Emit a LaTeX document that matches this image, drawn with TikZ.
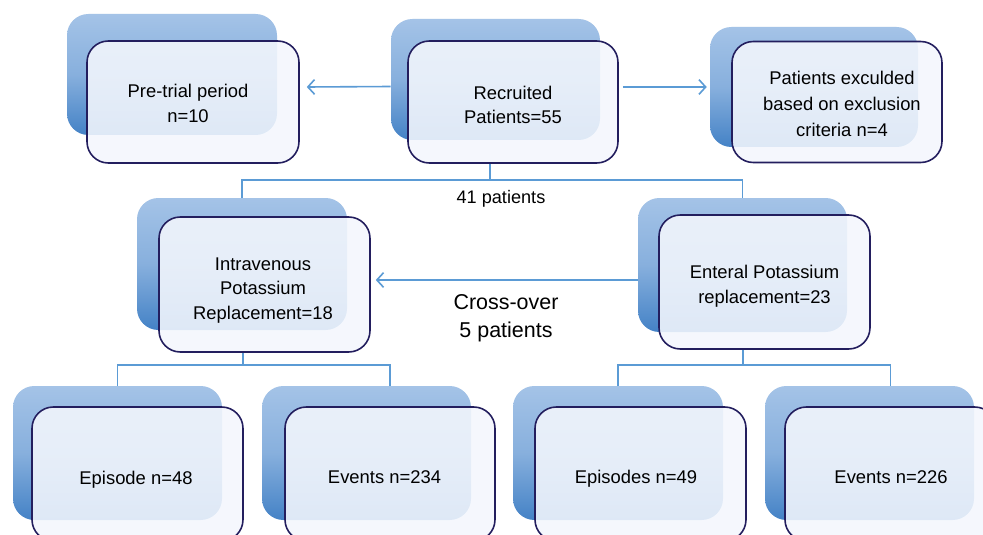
\documentclass[tikz,border=0pt]{standalone}
\usepackage{fontspec}
\setmainfont{Liberation Sans}
\usetikzlibrary{arrows.meta,calc}
\definecolor{backtop}{HTML}{A4C3E7}
\definecolor{backbot}{HTML}{4482C6}
\definecolor{frontfill}{HTML}{F4F7FD}
\definecolor{navy}{HTML}{231E5E}
\definecolor{conncol}{HTML}{5B9BD5}
\tikzset{
  backbox/.style={rectangle, rounded corners=16pt, top color=backtop, bottom color=backbot, middle color=backtop!70!backbot, draw=none, inner sep=0pt},
  frontbox/.style={rectangle, rounded corners=16pt, fill=frontfill, fill opacity=0.88, draw=navy, line width=1.2pt, inner sep=0pt},
  txt/.style={align=center, text=black, inner sep=0pt, font=\fontsize{13.8pt}{18.5pt}\selectfont},
  conn/.style={draw=conncol, line width=1.2pt},
  arr/.style={conn, -{Straight Barb[length=5pt,width=11pt,line width=1.2pt]}},
  lbl/.style={align=center, text=black, inner sep=0pt}
}
\begin{document}
\begin{tikzpicture}[x=0.75pt,y=-0.75pt]
\useasboundingbox (0,0) rectangle (983,535);
\clip (0,0) rectangle (983,535);
\fill[white] (0,0) rectangle (983,535);
% back boxes
\node[backbox, minimum width=157.5pt, minimum height=90.75pt] (pb) at (172,74.5) {};
\node[backbox, minimum width=156.75pt, minimum height=90.75pt] (rb) at (495.5,79.5) {};
\node[backbox, minimum width=156pt, minimum height=90pt] (xb) at (814,87) {};
\node[backbox, minimum width=157.5pt, minimum height=99pt] (ib) at (242,264) {};
\node[backbox, minimum width=156.75pt, minimum height=100.5pt] (nb) at (742.5,265) {};
\node[backbox, minimum width=156.75pt, minimum height=100.5pt] (e1b) at (117.5,453) {};
\node[backbox, minimum width=156.75pt, minimum height=100.5pt] (e2b) at (366.5,453) {};
\node[backbox, minimum width=157.5pt, minimum height=100.5pt] (e3b) at (618,453) {};
\node[backbox, minimum width=156.75pt, minimum height=100.5pt] (e4b) at (869.5,453) {};
% junction points
\coordinate (j1) at (490,180);
\coordinate (j2) at (243,365);
\coordinate (j3) at (743,365);
% front boxes
\node[frontbox, minimum width=159pt, minimum height=91.5pt] (pf) at (193,102) {};
\node[frontbox, minimum width=157.5pt, minimum height=91.5pt] (rf) at (513,102) {};
\node[frontbox, minimum width=157.5pt, minimum height=90.75pt] (xf) at (837,102) {};
\node[frontbox, minimum width=158.25pt, minimum height=101.25pt] (if) at (264.5,284.5) {};
\node[frontbox, minimum width=158.25pt, minimum height=100.5pt] (nf) at (764.5,282) {};
\node[frontbox, minimum width=158.25pt, minimum height=100.5pt] (e1f) at (137.5,474) {};
\node[frontbox, minimum width=157.5pt, minimum height=100.5pt] (e2f) at (390,474) {};
\node[frontbox, minimum width=158.25pt, minimum height=100.5pt] (e3f) at (640.5,474) {};
\node[frontbox, minimum width=158.25pt, minimum height=100.5pt] (e4f) at (890.5,474) {};
% box texts
\node[txt] (pft) at (188,103.5) {Pre-trial period\\n=10};
\node[txt] (rft) at (513,105) {Recruited\\Patients=55};
\node[txt, font=\fontsize{13.8pt}{19.5pt}\selectfont] (xft) at (842,104) {Patients exculded\\based on exclusion\\criteria n=4};
\node[txt] (ift) at (263,290.5) {Intravenous\\Potassium\\Replacement=18};
\node[txt] (nft) at (764.5,286) {Enteral Potassium\\replacement=23};
\node[txt] (e1t) at (136,480) {Episode n=48};
\node[txt] (e2t) at (384.5,477) {Events n=234};
\node[txt] (e3t) at (636,479) {Episodes n=49};
\node[txt] (e4t) at (891,477) {Events n=226};
% connectors
\draw[arr] ($(rb.west)+(0,7)$) -- ($(pf.east)+(7,-15)$);
\draw[arr] ($(rf.east)+(4,-15)$) -- ($(xb.west)+(-3,0)$);
\draw[conn] (j1 |- rf.south) -- (j1);
\draw[conn] (ib.north) |- (j1) -| (nb.north);
\draw[arr] ($(nb.west)+(0,15)$) -- ($(if.east)+(5,-4.5)$);
\draw[conn] (j2 |- if.south) -- (j2);
\draw[conn] (e1b.north) |- (j2) -| (e2b.north -| e2f.north);
\draw[conn] (j3 |- nf.south) -- (j3);
\draw[conn] (e3b.north) |- (j3) -| (e4b.north -| e4f.north);
% labels
\node[lbl, font=\fontsize{13.6pt}{16pt}\selectfont] (l41) at (501,199) {41 patients};
\node[lbl, font=\fontsize{16.1pt}{21pt}\selectfont] (lco) at (506,318) {Cross-over\\5 patients};
\end{tikzpicture}
\end{document}
